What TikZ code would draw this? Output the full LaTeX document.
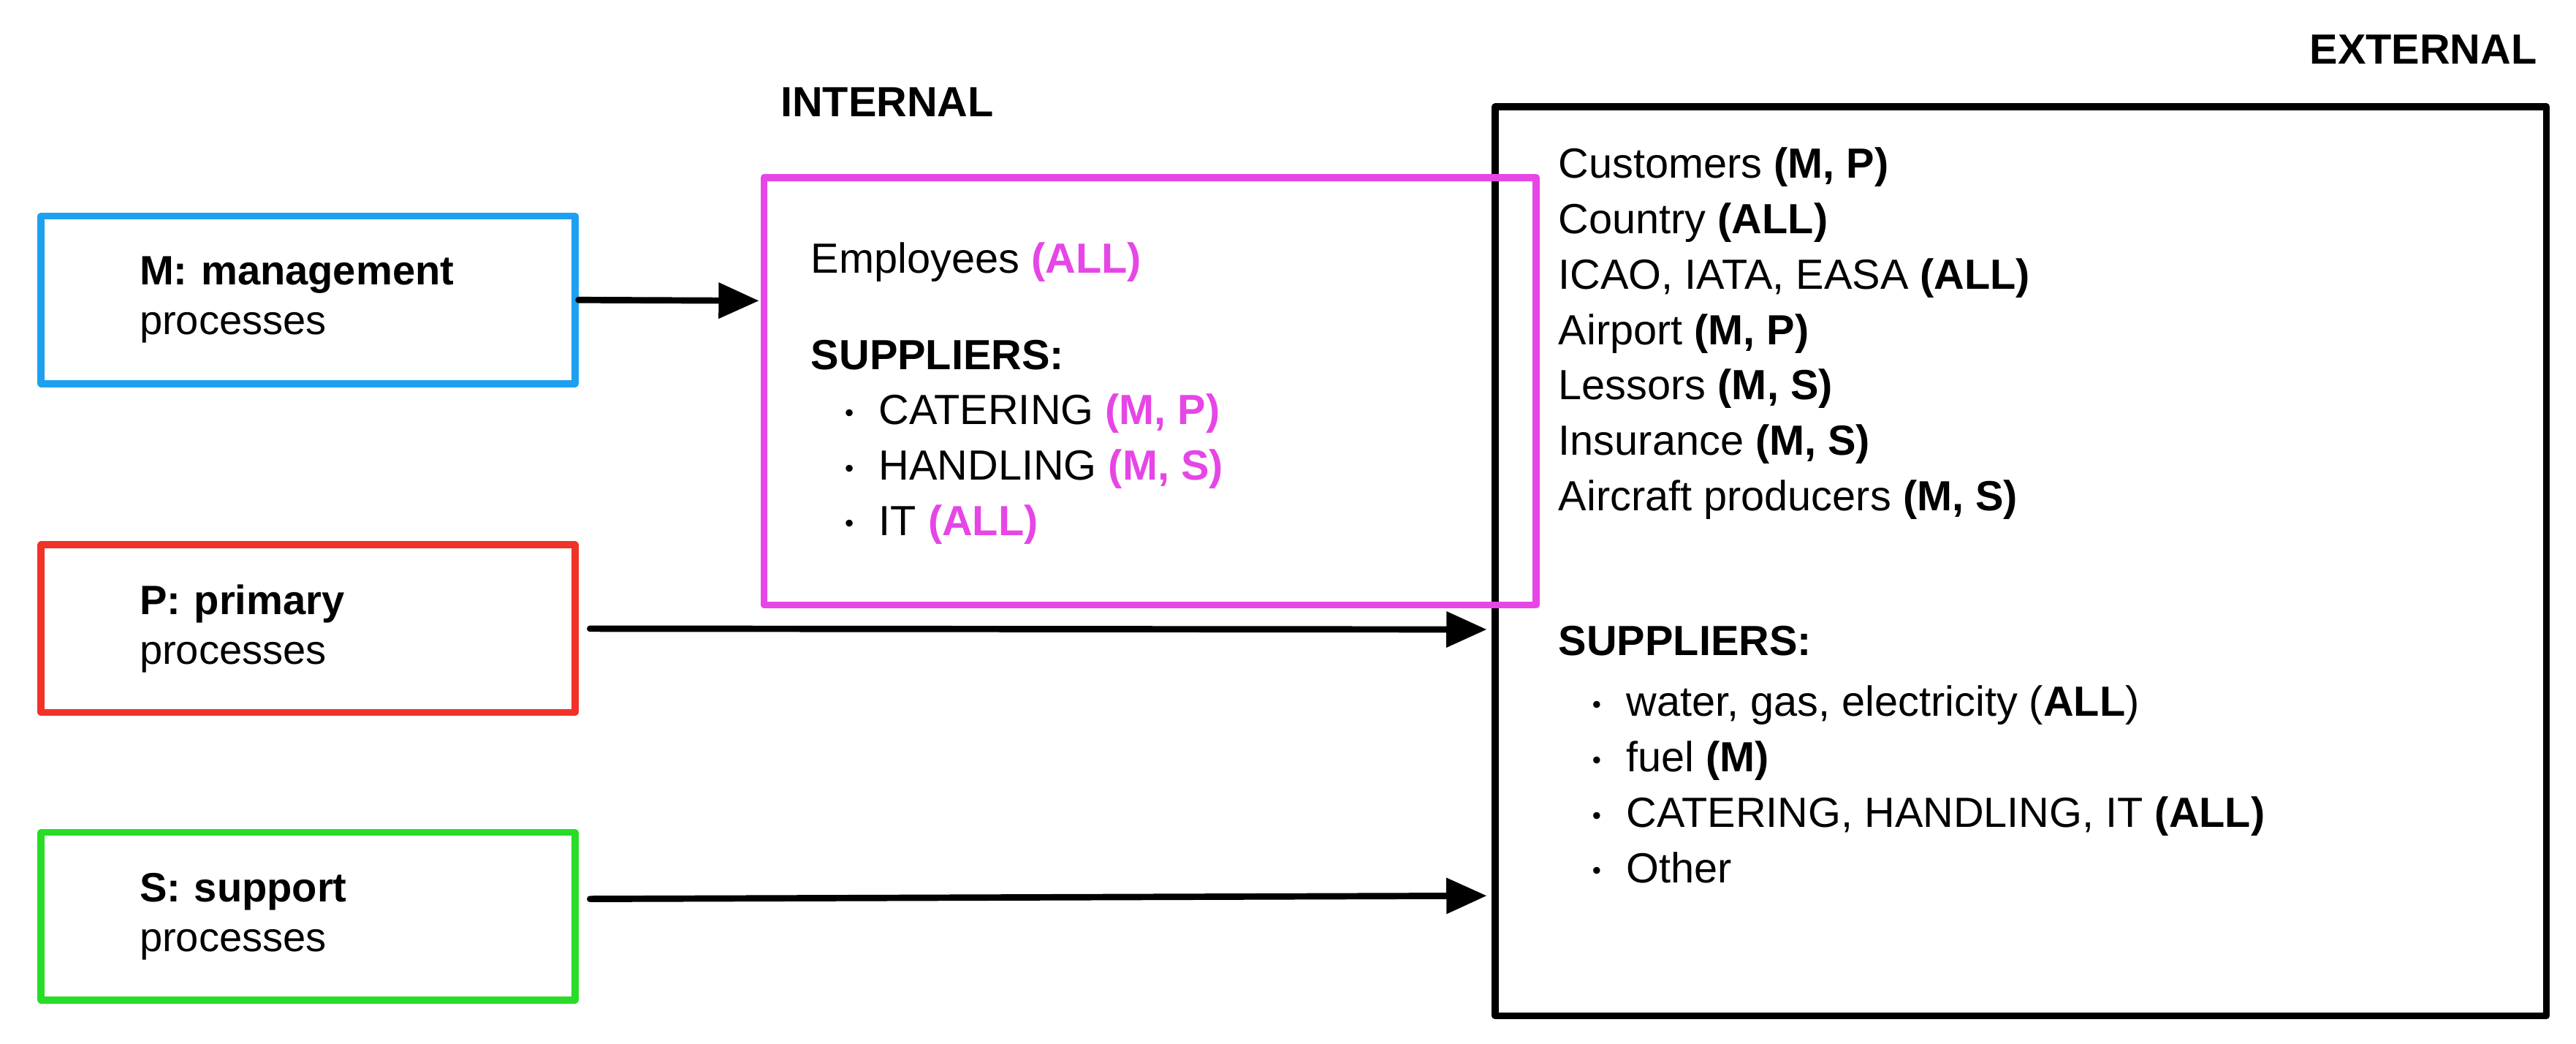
\documentclass[tikz,border=0pt]{standalone}
\usepackage{fontspec}
\setmainfont{Liberation Sans}
\usetikzlibrary{arrows.meta, positioning}
\definecolor{mblue}{RGB}{30,160,240}
\definecolor{pred}{RGB}{240,50,40}
\definecolor{sgreen}{RGB}{40,220,40}
\definecolor{imag}{RGB}{230,70,230}
\newcommand{\mg}[1]{\textcolor{imag}{\textbf{#1}}}
\newcommand{\bl}{\hspace*{0.8em}\raisebox{0.15ex}{\scalebox{0.6}{\textbullet}}\hspace{0.6em}}
\begin{document}
\begin{tikzpicture}[line cap=round,line join=round,
  proc/.style={draw, line width=1.2pt, minimum width=3.25cm, minimum height=1.02cm,
    align=left, text width=2.05cm, font=\fontsize{7.1}{8.6}\selectfont},
  txt/.style={anchor=north west, align=left, inner sep=0pt, font=\fontsize{7.3}{9.6}\selectfont},
  arr/.style={-{Triangle[length=7pt,width=6pt]}, line width=1.1pt}]
\useasboundingbox (0,0) rectangle (15.68,6.35);

% Process boxes
\node[proc, draw=mblue] (m) at (1.875,4.525) {\textbf{M: management}\\processes};
\node[proc, draw=pred] (p) at (1.875,2.525) {\textbf{P: primary}\\processes};
\node[proc, draw=sgreen] (s) at (1.875,0.775) {\textbf{S: support}\\processes};

% Internal / external boxes
\draw[line width=1.2pt, black] (9.10,0.17) rectangle (15.50,5.70);
\draw[line width=1.2pt, imag] (4.65,2.67) rectangle (9.35,5.27);
\coordinate (intw) at (4.62,4.52);
\coordinate (extp) at (9.05,2.52);
\coordinate (exts) at (9.05,0.90);

\node[font=\fontsize{7.3}{8}\selectfont\bfseries] (inlab) at (5.40,5.73) {INTERNAL};
\node[font=\fontsize{7.3}{8}\selectfont\bfseries] (exlab) at (14.75,6.05) {EXTERNAL};

% Texts
\node[txt] (intxt) at (4.93,4.88) {Employees \mg{(ALL)}\\[7pt]
  \textbf{SUPPLIERS:}\\
  \bl CATERING \mg{(M, P)}\\
  \bl HANDLING \mg{(M, S)}\\
  \bl IT \mg{(ALL)}};
\node[txt] (extxt) at (9.48,5.46) {Customers \textbf{(M, P)}\\
  Country \textbf{(ALL)}\\
  ICAO, IATA, EASA \textbf{(ALL)}\\
  Airport \textbf{(M, P)}\\
  Lessors \textbf{(M, S)}\\
  Insurance \textbf{(M, S)}\\
  Aircraft producers \textbf{(M, S)}};
\node[txt] (exsup) at (9.48,2.55) {\textbf{SUPPLIERS:}\\[1pt]
  \bl water, gas, electricity (\textbf{ALL})\\
  \bl fuel \textbf{(M)}\\
  \bl CATERING, HANDLING, IT \textbf{(ALL)}\\
  \bl Other};

% Arrows
\draw[arr] (m.east) -- (intw);
\draw[arr] ([xshift=2pt]p.east) -- (extp);
\draw[arr] ([xshift=2pt,yshift=3pt]s.east) -- (exts);
\end{tikzpicture}
\end{document}
